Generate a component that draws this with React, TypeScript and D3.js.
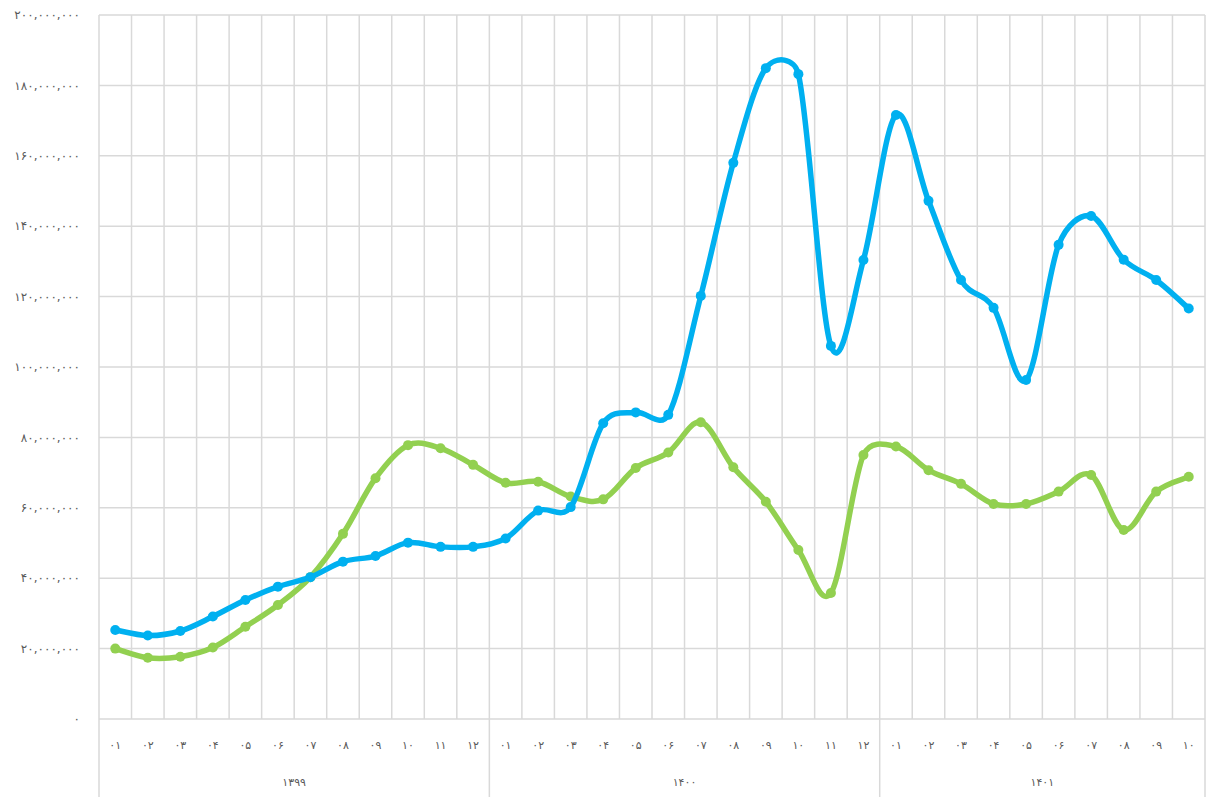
import React, { useEffect, useRef } from "react";
import * as d3 from "d3";

// months of each year (Persian calendar)
const years = ["۱۳۹۹", "۱۴۰۰", "۱۴۰۱"];
const monthsPerYear = [12, 12, 10];
const monthLabels = ["۰۱", "۰۲", "۰۳", "۰۴", "۰۵", "۰۶", "۰۷", "۰۸", "۰۹", "۱۰", "۱۱", "۱۲"];

// values, in millions
const blueValues = [
  25.3, 23.7, 25.0, 29.1, 33.8, 37.6, 40.3, 44.7, 46.3, 50.1, 48.9, 48.9,
  51.3, 59.2, 60.2, 84.0, 87.1, 86.4, 120.2, 158.0, 184.9, 183.2, 106.0, 130.4,
  171.6, 147.2, 124.7, 116.8, 96.3, 134.7, 142.9, 130.5, 124.7, 116.6,
];
const greenValues = [
  20.0, 17.4, 17.7, 20.3, 26.2, 32.4, 40.3, 52.6, 68.4, 77.8, 76.9, 72.2,
  67.1, 67.4, 63.2, 62.4, 71.3, 75.7, 84.3, 71.5, 61.7, 48.0, 35.8, 75.0,
  77.4, 70.7, 66.8, 61.1, 61.1, 64.6, 69.3, 53.7, 64.6, 68.8,
];
const yTicks = [0, 20, 40, 60, 80, 100, 120, 140, 160, 180, 200];

const persianDigits = "۰۱۲۳۴۵۶۷۸۹";
const toPersian = (s: string) => s.replace(/[0-9]/g, (c) => persianDigits[+c]);

// spreadsheet-style smoothing: catmull-rom bezier, control arm capped at half the segment
function smoothPath(pts: [number, number][]) {
  const p = d3.path();
  const n = pts.length;
  const dist = (a: [number, number], b: [number, number]) => Math.hypot(b[0] - a[0], b[1] - a[1]);
  p.moveTo(pts[0][0], pts[0][1]);
  for (let i = 0; i < n - 1; i++) {
    const p0 = pts[Math.max(i - 1, 0)];
    const p1 = pts[i];
    const p2 = pts[i + 1];
    const p3 = pts[Math.min(i + 2, n - 1)];
    const d12 = dist(p1, p2);
    const d02 = dist(p0, p2);
    const d13 = dist(p1, p3);
    const f1 = d02 / 6 < d12 / 2 ? 1 / 6 : d12 / (2 * d02);
    const f2 = d13 / 6 < d12 / 2 ? 1 / 6 : d12 / (2 * d13);
    p.bezierCurveTo(
      p1[0] + (p2[0] - p0[0]) * f1,
      p1[1] + (p2[1] - p0[1]) * f1,
      p2[0] - (p3[0] - p1[0]) * f2,
      p2[1] - (p3[1] - p1[1]) * f2,
      p2[0],
      p2[1]
    );
  }
  return p.toString();
}

const App = () => {
  const ref = useRef<SVGSVGElement>(null);

  useEffect(() => {
    const svg = d3.select(ref.current);
    svg.selectAll("*").remove();

    const left = 99;
    const right = 1205;
    const top = 15;
    const bottom = 719;
    const axisBottom = 797;
    const grid = "#d9d9d9";
    const textColor = "#595959";
    const font = "'DejaVu Sans', sans-serif";

    // build category list
    const cats: { year: number; month: string }[] = [];
    monthsPerYear.forEach((n, yi) => {
      for (let m = 0; m < n; m++) cats.push({ year: yi, month: monthLabels[m] });
    });

    const x = d3
      .scaleBand<number>()
      .domain(cats.map((_, i) => i))
      .range([left, right]);
    const y = d3.scaleLinear().domain([0, 200]).range([bottom, top]);
    const cx = (i: number) => (x(i) as number) + x.bandwidth() / 2;

    // horizontal gridlines
    svg
      .append("g")
      .selectAll("line")
      .data(yTicks)
      .enter()
      .append("line")
      .attr("x1", left)
      .attr("x2", right)
      .attr("y1", (d) => y(d))
      .attr("y2", (d) => y(d))
      .attr("stroke", grid)
      .attr("stroke-width", 1.5);

    // vertical gridlines at category boundaries
    const bounds = d3.range(cats.length + 1).map((i) => left + i * x.bandwidth());
    svg
      .append("g")
      .selectAll("line")
      .data(bounds)
      .enter()
      .append("line")
      .attr("x1", (d) => d)
      .attr("x2", (d) => d)
      .attr("y1", top)
      .attr("y2", bottom)
      .attr("stroke", grid)
      .attr("stroke-width", 1.5);

    // year separators below the axis
    let acc = 0;
    const sepIdx = [0];
    monthsPerYear.forEach((n) => {
      acc += n;
      sepIdx.push(acc);
    });
    svg
      .append("g")
      .selectAll("line")
      .data(sepIdx)
      .enter()
      .append("line")
      .attr("x1", (d) => left + d * x.bandwidth())
      .attr("x2", (d) => left + d * x.bandwidth())
      .attr("y1", bottom)
      .attr("y2", axisBottom)
      .attr("stroke", grid)
      .attr("stroke-width", 1.5);

    // y tick labels
    svg
      .append("g")
      .selectAll("text")
      .data(yTicks)
      .enter()
      .append("text")
      .attr("x", 80)
      .attr("y", (d) => y(d))
      .attr("dy", "0.35em")
      .attr("text-anchor", "end")
      .attr("font-family", font)
      .attr("font-size", 12)
      .attr("fill", textColor)
      .text((d) => toPersian(d3.format(",")(d * 1000000)));

    // month labels
    svg
      .append("g")
      .selectAll("text")
      .data(cats)
      .enter()
      .append("text")
      .attr("x", (_, i) => cx(i))
      .attr("y", 745)
      .attr("dy", "0.35em")
      .attr("text-anchor", "middle")
      .attr("font-family", font)
      .attr("font-size", 11)
      .attr("fill", textColor)
      .text((d) => d.month);

    // year labels
    svg
      .append("g")
      .selectAll("text")
      .data(years)
      .enter()
      .append("text")
      .attr("x", (_, i) => (left + sepIdx[i] * x.bandwidth() + left + sepIdx[i + 1] * x.bandwidth()) / 2)
      .attr("y", 782)
      .attr("dy", "0.35em")
      .attr("text-anchor", "middle")
      .attr("font-family", font)
      .attr("font-size", 11)
      .attr("fill", textColor)
      .text((d) => d);

    const series = [
      { values: greenValues, color: "#92d050" },
      { values: blueValues, color: "#00b0f0" },
    ];

    series.forEach((s) => {
      const g = svg.append("g");
      const pts = s.values.map((v, i) => [cx(i), y(v)] as [number, number]);
      g.append("path")
        .attr("d", smoothPath(pts))
        .attr("fill", "none")
        .attr("stroke", s.color)
        .attr("stroke-width", 5.5)
        .attr("stroke-linecap", "round")
        .attr("stroke-linejoin", "round");
      g.selectAll("circle")
        .data(s.values)
        .enter()
        .append("circle")
        .attr("cx", (_, i) => cx(i))
        .attr("cy", (d) => y(d))
        .attr("r", 5)
        .attr("fill", s.color);
    });
  }, []);

  return (
    <div style={{ position: "absolute", left: 0, top: 0 }}>
      <svg ref={ref} width={1211} height={800} style={{ display: "block", background: "#fff" }} />
    </div>
  );
};

export default App;
